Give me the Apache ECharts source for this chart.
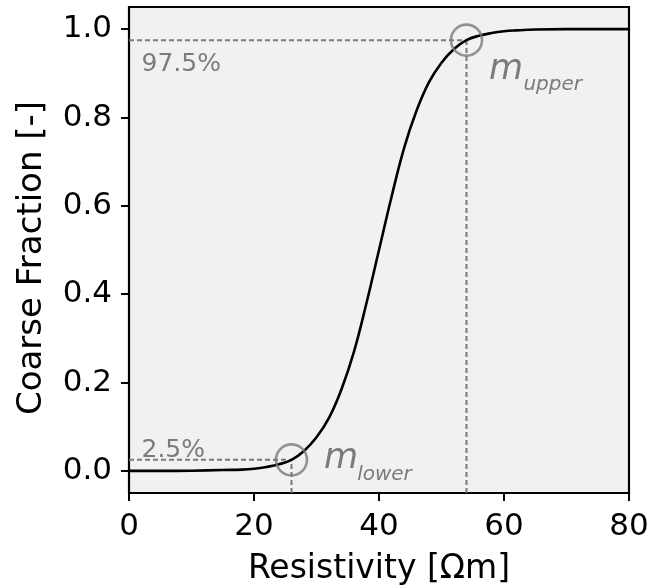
<!DOCTYPE html>
<html>
<head>
<meta charset="utf-8">
<script src="https://cdn.jsdelivr.net/npm/echarts@6/dist/echarts.min.js"></script>
<style>
html,body{margin:0;padding:0;background:#fff;}
#c{width:651px;height:586px;}
</style>
</head>
<body>
<div id="c"></div>
<script>
// ---- data ----
const resistivity = [0,5,10,15,18,20,22,24,26,28,30,32,34,36,38,40,42,44,46,48,50,52,54,56,58,60,62,65,70,75,80];
const coarseFraction = [0,0,0.0005,0.002,0.003,0.005,0.009,0.015,0.025,0.045,0.076,0.12,0.185,0.27,0.38,0.5,0.62,0.73,0.815,0.88,0.924,0.955,0.975,0.985,0.991,0.995,0.997,0.999,1,1,1];
const lowerPoint = [26, 0.025];
const upperPoint = [54, 0.975];
const xTicks = [0,20,40,60,80];
const yTicks = [0,0.2,0.4,0.6,0.8,1.0];
const lowerLabel = '2.5%';
const upperLabel = '97.5%';

const FONT = 'DejaVu Sans';
const GRAY = '#7b7b7b';
const yMin = -0.05, yMax = 1.05;

const chart = echarts.init(document.getElementById('c'), null, {renderer:'canvas'});

const curve = resistivity.map((x,i)=>[x, coarseFraction[i]]);
const dashStyle = {color: GRAY, width: 2, type: [5,3]};

const option = {
  animation: false,
  grid: {left:129, right:22, top:7, bottom:93, containLabel:false, outerBoundsMode:'none',
    show:true, backgroundColor:'#f0f1f0', borderColor:'#000', borderWidth:2.2},
  xAxis: {
    type:'value', min:0, max:80, interval:20,
    axisLine:{show:false, onZero:false},
    axisTick:{show:true, length:8, lineStyle:{color:'#000', width:2}, customValues: xTicks},
    axisLabel:{show:true, margin:18, color:'#000', fontFamily:FONT, fontSize:31, customValues: xTicks},
    splitLine:{show:false},
    name:'Resistivity [Ωm]', nameLocation:'middle', nameGap:60,
    nameTextStyle:{color:'#000', fontFamily:FONT, fontSize:33}
  },
  yAxis: {
    type:'value', min:yMin, max:yMax,
    axisLine:{show:false, onZero:false},
    axisTick:{show:true, length:8, lineStyle:{color:'#000', width:2}, customValues: yTicks},
    axisLabel:{show:true, margin:17, color:'#000', fontFamily:FONT, fontSize:31, customValues: yTicks,
      formatter: v => v.toFixed(1)},
    splitLine:{show:false},
    name:'Coarse Fraction [-]', nameLocation:'middle', nameGap:80, nameRotate:90,
    nameTextStyle:{color:'#000', fontFamily:FONT, fontSize:34, padding:[0,16,0,0]}
  },
  series: [
    {type:'line', data:[[0,lowerPoint[1]],[lowerPoint[0],lowerPoint[1]]], symbol:'none', lineStyle:dashStyle, z:2, silent:true},
    {type:'line', data:[[lowerPoint[0],yMin],[lowerPoint[0],lowerPoint[1]]], symbol:'none', lineStyle:dashStyle, z:2, silent:true},
    {type:'line', data:[[0,upperPoint[1]],[upperPoint[0],upperPoint[1]]], symbol:'none', lineStyle:dashStyle, z:2, silent:true},
    {type:'line', data:[[upperPoint[0],yMin],[upperPoint[0],upperPoint[1]]], symbol:'none', lineStyle:dashStyle, z:2, silent:true},
    {type:'line', data:curve, symbol:'none', smooth:0.4, lineStyle:{color:'#000', width:2.6}, z:3},
    {type:'scatter', data:[lowerPoint, upperPoint], symbol:'circle', symbolSize:31,
      itemStyle:{color:'rgba(0,0,0,0)', borderColor:GRAY, borderWidth:2.6}, z:4}
  ]
};
chart.setOption(option);

function px(x,y){ return chart.convertToPixel({gridIndex:0}, [x,y]); }
function txt(x, yBase, text, size, italic){
  const p = px(x, yBase);
  return {type:'text', x:p[0], y:p[1] - 0.2*size, z:10, silent:true,
    style:{text:text, fill:GRAY, font:(italic?'italic ':'')+size+'px "'+FONT+'"', align:'left', verticalAlign:'middle'}};
}
chart.setOption({graphic:[
  txt(2.0, 0.909, upperLabel, 25, false),
  txt(2.0, 0.036, lowerLabel, 25, false),
  txt(57.6, 0.891, 'm', 35, true),
  txt(63.1, 0.864, 'upper', 20, true),
  txt(31.2, 0.011, 'm', 35, true),
  txt(36.5, -0.018, 'lower', 20, true)
]});
</script>
</body>
</html>
